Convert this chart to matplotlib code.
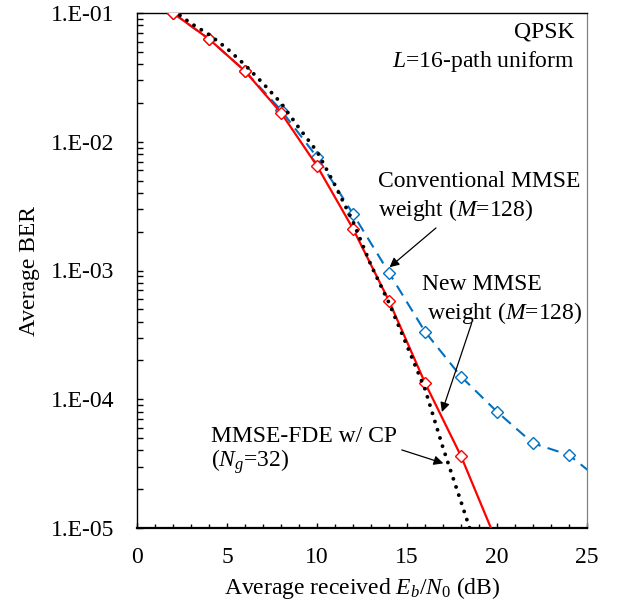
import numpy as np
import matplotlib
matplotlib.use('Agg')
import matplotlib.pyplot as plt
from matplotlib.ticker import FixedLocator, FuncFormatter, LogLocator, NullFormatter

plt.rcParams['font.family'] = ['Liberation Serif', 'DejaVu Serif']
plt.rcParams['mathtext.fontset'] = 'custom'
plt.rcParams['mathtext.rm'] = 'Liberation Serif'
plt.rcParams['mathtext.it'] = 'Liberation Serif:italic'
plt.rcParams['mathtext.bf'] = 'Liberation Serif:bold'

# 数据
snr_new = [2, 4, 6, 8, 10, 12, 14, 16, 18, 20]
ber_new = [0.1, 0.0628, 0.0354, 0.0168, 6.5e-3, 2.11e-3, 5.8e-4, 1.34e-4, 3.62e-5, 7.7e-6]

snr_conv = [2, 4, 6, 8, 10, 12, 14, 16, 18, 20, 22, 24, 26]
ber_conv = [0.1, 0.0628, 0.0354, 0.0176, 7.6e-3, 2.75e-3, 9.6e-4, 3.35e-4, 1.5e-4,
            8.0e-5, 4.55e-5, 3.69e-5, 2.2e-5]

snr_cp = [2, 3, 4, 5, 6, 7, 8, 9, 10, 11, 12, 13, 14, 15, 16, 17, 18, 19]
ber_cp = [0.105, 0.083, 0.068, 0.053, 0.0395, 0.0284, 0.02, 0.0128, 8.4e-3, 4.6e-3,
          2.4e-3, 1.1e-3, 5.6e-4, 2.6e-4, 1.2e-4, 4.2e-5, 1.6e-5, 6e-6]

x_ticks = [0, 5, 10, 15, 20, 25]
y_ticks = [1e-5, 1e-4, 1e-3, 1e-2, 1e-1]

fs = 17

fig = plt.figure(figsize=(6.28, 6.03), dpi=100)
ax = fig.add_axes([137 / 628, 1 - 528 / 603, 450 / 628, 515 / 603])

ax.plot(snr_conv, ber_conv, color='#0070C0', lw=1.5, ls=(0, (5.5, 3.5)),
        marker='D', ms=6.5, mfc='white', mec='#0070C0', mew=1.0, zorder=2)
ax.plot(snr_new, ber_new, color='#FF0000', lw=1.6, ls='-',
        marker='D', ms=6.5, mfc='white', mec='#FF0000', mew=1.0, zorder=3)
ax.plot(snr_cp, ber_cp, color='black', lw=2.8, ls=(0, (0.01, 2.2)),
        dash_capstyle='round', zorder=4)

ax.set_yscale('log')
ax.set_xlim(0, 25)
ax.set_ylim(1e-5, 1e-1)

ax.xaxis.set_major_locator(FixedLocator(x_ticks))
ax.xaxis.set_minor_locator(FixedLocator(np.arange(0, 26, 1)))
ax.yaxis.set_major_locator(FixedLocator(y_ticks))
ax.yaxis.set_minor_locator(LogLocator(base=10, subs=np.arange(2, 10)))
ax.yaxis.set_minor_formatter(NullFormatter())
ax.yaxis.set_major_formatter(FuncFormatter(lambda v, p: '1.E-%02d' % round(-np.log10(v))))

ax.tick_params(axis='both', which='both', direction='in', labelsize=fs, colors='black')
ax.tick_params(axis='y', which='both', length=4.3, width=1.0, pad=16)
ax.tick_params(axis='x', which='major', length=3.5, width=1.0, pad=14)
ax.tick_params(axis='x', which='minor', length=3.0, width=1.0)

ax.spines['left'].set_linewidth(1.0)
ax.spines['top'].set_linewidth(1.0)
ax.spines['bottom'].set_linewidth(1.6)
ax.spines['right'].set_linewidth(0.9)
ax.spines['right'].set_color('#808080')

ax.set_xlabel('Average received $E_b$/$N_0$ (dB)', fontsize=fs, labelpad=5)
ax.set_ylabel('Average BER', fontsize=fs, labelpad=8)

# 注释文字
ax.text(0.973, 0.964, 'QPSK', transform=ax.transAxes, ha='right', va='center', fontsize=fs)
ax.text(0.973, 0.905, '$L$=16-path uniform', transform=ax.transAxes, ha='right', va='center', fontsize=fs)

ax.text(0.536, 0.672, 'Conventional MMSE', transform=ax.transAxes, ha='left', va='center', fontsize=fs)
ax.text(0.536, 0.617, 'weight ($M$=128)', transform=ax.transAxes, ha='left', va='center', fontsize=fs)

ax.text(0.633, 0.472, 'New MMSE', transform=ax.transAxes, ha='left', va='center', fontsize=fs)
ax.text(0.644, 0.417, 'weight ($M$=128)', transform=ax.transAxes, ha='left', va='center', fontsize=fs)

ax.text(0.164, 0.1786, 'MMSE-FDE w/ CP', transform=ax.transAxes, ha='left', va='center', fontsize=fs)
ax.text(0.164, 0.128, '($N_g$=32)', transform=ax.transAxes, ha='left', va='center', fontsize=fs)

arrow = dict(arrowstyle='-|>', color='black', lw=0.9, mutation_scale=14, shrinkA=0, shrinkB=0)
ax.annotate('', xy=(14.03, 1.06e-3), xytext=(16.61, 2.14e-3), arrowprops=arrow)
ax.annotate('', xy=(16.94, 7.96e-5), xytext=(18.59, 3.89e-4), arrowprops=arrow)
ax.annotate('', xy=(17.02, 3.18e-5), xytext=(14.71, 4.04e-5), arrowprops=arrow)

fig.savefig('out.png', dpi=100)
